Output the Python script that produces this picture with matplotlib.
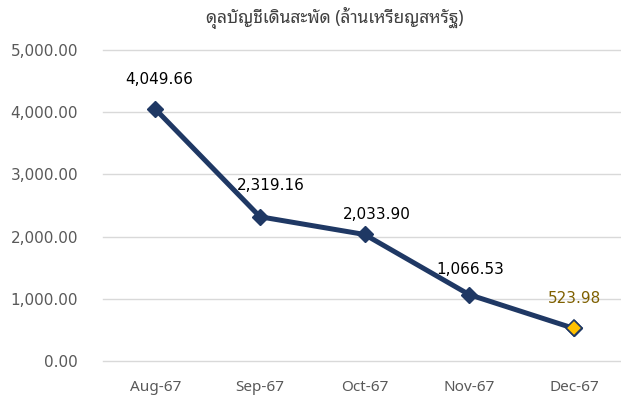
import matplotlib
matplotlib.use("Agg")
import matplotlib.pyplot as plt

months = ["Aug-67", "Sep-67", "Oct-67", "Nov-67", "Dec-67"]
values = [4049.66, 2319.16, 2033.90, 1066.53, 523.98]
yticks = [0, 1000, 2000, 3000, 4000, 5000]
title = "ดุลบัญชีเดินสะพัด (ล้านเหรียญสหรัฐ)"

# label offsets from the marker, in pixels (dx, dy up)
label_dx = [4, 11, 12, 1, 1]
label_dy = [30, 31, 20, 25, 30]

navy = "#1F3864"
fig = plt.figure(figsize=(6.21, 4.05), dpi=100)
ax = fig.add_axes([103/621, 44/405, 518/621, 311/405])
x = list(range(len(months)))
ax.plot(x, values, color=navy, lw=3.6, marker="D", ms=8, zorder=3)
# last point highlighted
ax.plot(x[-1:], values[-1:], marker="D", ms=8, color="#FFC000", mec=navy, mew=1.2, ls="none", zorder=4)
for i, v in enumerate(values):
    c = "#7F6000" if i == len(values) - 1 else "black"
    ax.annotate(f"{v:,.2f}", (i, v), xytext=(label_dx[i]*0.72, label_dy[i]*0.72),
                textcoords="offset points", ha="center", va="center", fontsize=11, color=c)
ax.set_ylim(0, 5000)
ax.set_xlim(-0.5, 4.45)
ax.set_yticks(yticks)
ax.set_yticklabels([f"{t:,.2f}" for t in yticks])
ax.set_xticks(x)
ax.set_xticklabels(months, family="Noto Sans")
ax.grid(axis="y", color="#D9D9D9", lw=1)
for gl in ax.get_ygridlines():
    gl.set_clip_on(False)
ax.set_axisbelow(True)
for s in ax.spines.values():
    s.set_visible(False)
ax.tick_params(length=0, labelsize=11, colors="#595959")
ax.tick_params(axis="y", pad=18)
ax.tick_params(axis="x", pad=14)
fig.text(335/621, 0.955, title, ha="center", va="center", fontsize=12.5, color="#404040",
         family=["Noto Sans Thai Looped", "DejaVu Sans"])
fig.savefig("out.png", dpi=100)
